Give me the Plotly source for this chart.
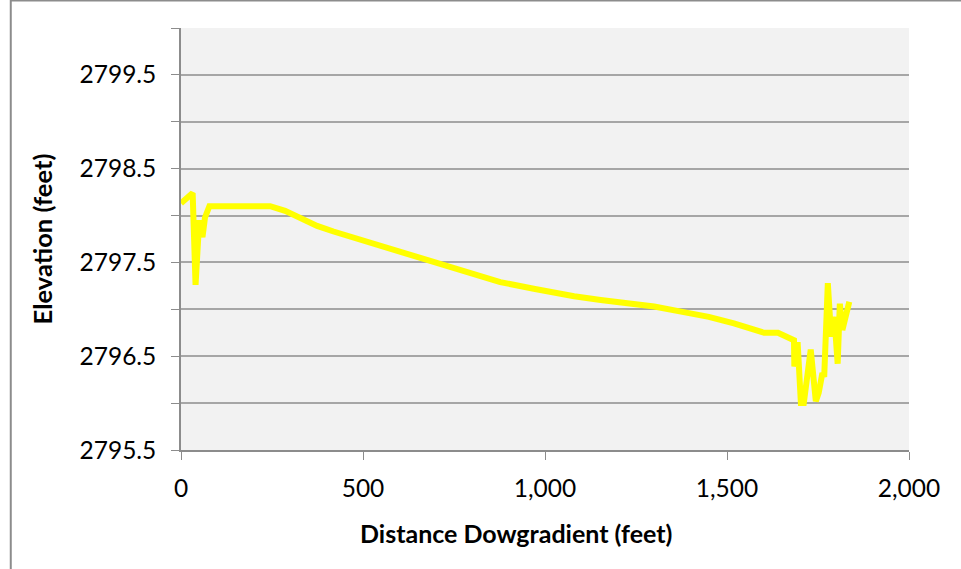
import plotly.graph_objects as go

distance_ft = [0, 32, 40, 50, 59, 66, 78, 150, 245, 286, 327, 374, 419, 511, 600, 694, 780, 877, 969, 1018, 1080, 1153, 1244, 1300,
               1381, 1450, 1519, 1560, 1602, 1640, 1675, 1684, 1685, 1694, 1703, 1711, 1730, 1744, 1752, 1762, 1767,
               1777, 1786, 1795, 1804, 1810, 1817, 1826, 1836]
elevation_ft = [2798.13, 2798.24, 2797.26, 2797.95, 2797.77, 2797.98, 2798.10, 2798.10, 2798.10, 2798.05, 2797.97, 2797.89, 2797.83,
                2797.72, 2797.62, 2797.51, 2797.40, 2797.29, 2797.22, 2797.18, 2797.14, 2797.10, 2797.06, 2797.03,
                2796.97, 2796.92, 2796.85, 2796.80, 2796.75, 2796.75, 2796.69, 2796.67, 2796.39, 2796.65, 2796.00, 2796.00,
                2796.57, 2796.02, 2796.11, 2796.32, 2796.28, 2797.28, 2796.71, 2796.92, 2796.42, 2797.06, 2796.78, 2796.92, 2797.08]

y_tick_vals = [2795.5, 2796.0, 2796.5, 2797.0, 2797.5, 2798.0, 2798.5, 2799.0, 2799.5, 2800.0]
y_tick_text = ["2795.5", "", "2796.5", "", "2797.5", "", "2798.5", "", "2799.5", ""]
x_tick_vals = [0, 500, 1000, 1500, 2000]
x_tick_text = ["0", "500", "1,000", "1,500", "2,000"]
x_title = "Distance Dowgradient (feet)"
y_title = "Elevation (feet)"

FONT = "Lato, 'Liberation Sans', Arial, sans-serif"

fig = go.Figure()
fig.add_trace(go.Scatter(x=distance_ft, y=elevation_ft, mode="lines",
                         line=dict(color="#FFFF00", width=6), showlegend=False))

fig.update_layout(
    width=961, height=569,
    margin=dict(l=181, r=52, t=28, b=119),
    paper_bgcolor="white", plot_bgcolor="#F2F2F2",
    font=dict(family=FONT, size=24.5, color="black"),
    xaxis=dict(range=[0, 2000], tickvals=x_tick_vals, ticktext=x_tick_text,
               showgrid=False, zeroline=False, showline=True, linecolor="#8C8C8C", linewidth=1.5,
               ticks="outside", ticklen=8, tickcolor="#8C8C8C", ticklabelstandoff=8),
    yaxis=dict(range=[2795.5, 2800], tickvals=y_tick_vals, ticktext=y_tick_text,
               showgrid=True, gridcolor="#A6A6A6", gridwidth=1.5, zeroline=False,
               showline=True, linecolor="#8C8C8C", linewidth=1.5,
               ticks="outside", ticklen=8, tickcolor="#8C8C8C", ticklabelstandoff=10,
               title=dict(text="<b>" + y_title + "</b>", font=dict(size=25.5), standoff=20)),
    annotations=[
        dict(text="<b>" + x_title + "</b>", xref="paper", yref="paper",
             x=(515.5 - 181) / 727, y=(450 - 533) / 422, xanchor="center", yanchor="middle",
             showarrow=False, font=dict(size=25)),
    ],
    shapes=[
        dict(type="line", xref="paper", yref="paper", x0=(11 - 181) / 727, x1=(961 - 181) / 727,
             y0=(450 - 0.5) / 422, y1=(450 - 0.5) / 422, line=dict(color="#8C8C8C", width=2)),
        dict(type="line", xref="paper", yref="paper", x0=(11 - 181) / 727, x1=(11 - 181) / 727,
             y0=(450 - 0) / 422, y1=(450 - 569) / 422, line=dict(color="#8C8C8C", width=2)),
    ],
)

fig.write_html("out.html", config={"displayModeBar": False},
               post_script="document.body.style.margin='0';")
